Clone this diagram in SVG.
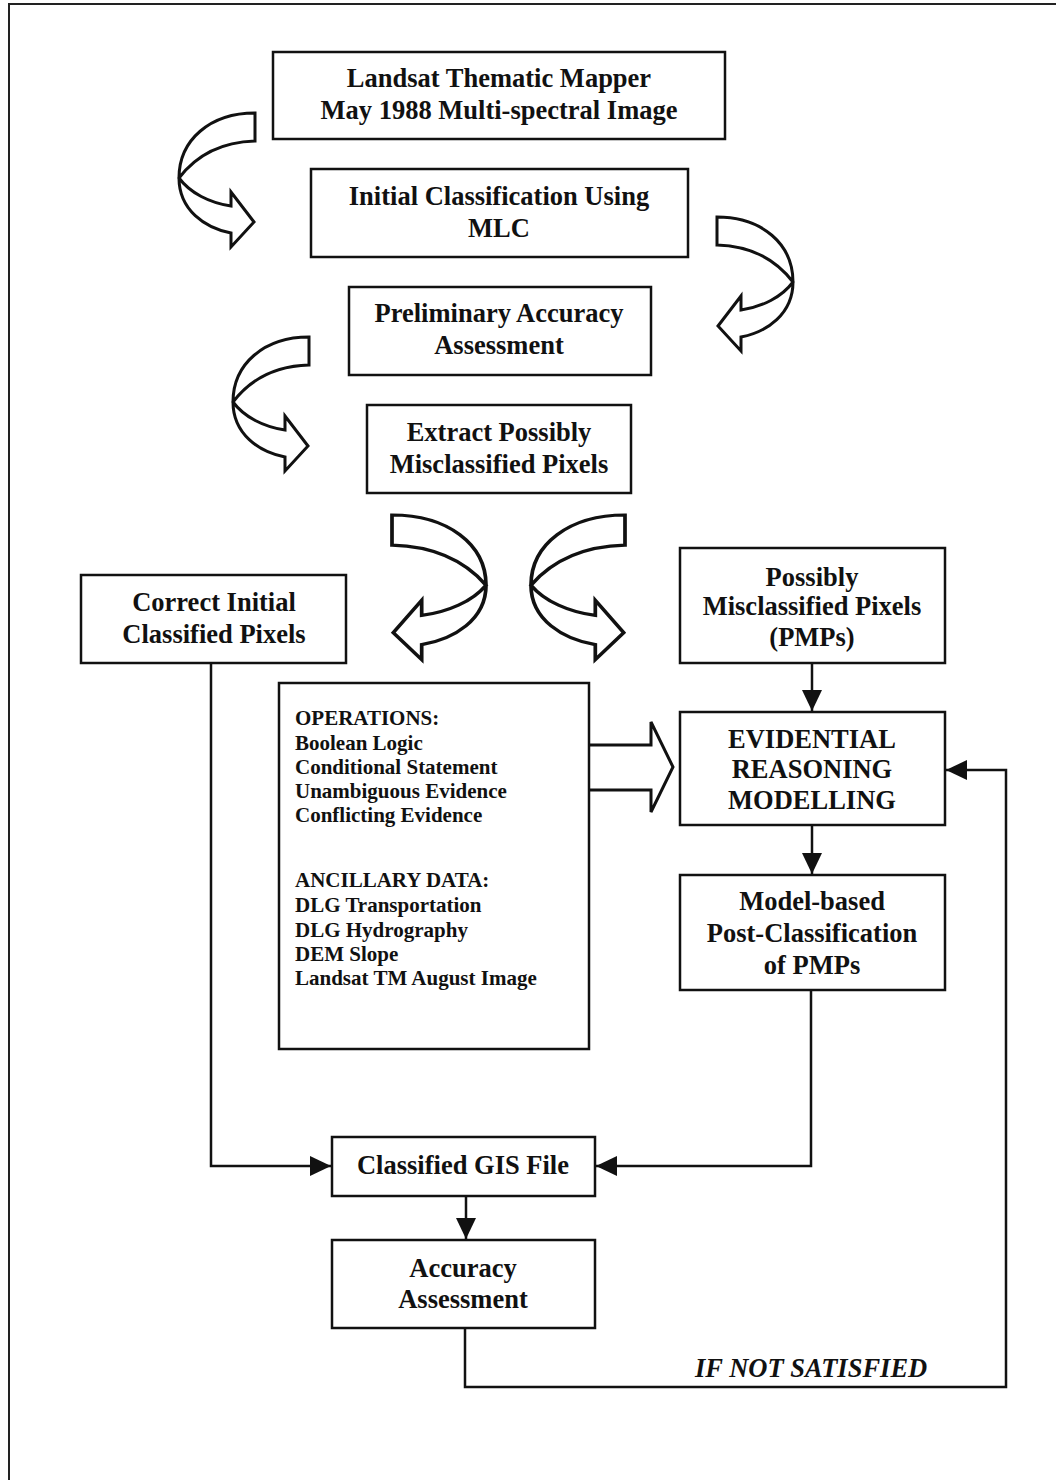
<svg xmlns="http://www.w3.org/2000/svg" xmlns:xlink="http://www.w3.org/1999/xlink" width="1056" height="1480" viewBox="0 0 1056 1480">
  <style>
    .box { fill: #fff; stroke: #111; stroke-width: 2.5; }
    .t { font-family: "Liberation Serif", "Times New Roman", serif; font-weight: bold; font-size: 26.5px; fill: #111; text-anchor: middle; }
    .s { font-family: "Liberation Serif", "Times New Roman", serif; font-weight: bold; font-size: 21px; fill: #111; }
    .it { font-family: "Liberation Serif", "Times New Roman", serif; font-weight: bold; font-style: italic; font-size: 26.5px; fill: #111; }
    .wire { fill: none; stroke: #111; stroke-width: 2.5; }
    .curl { fill: #fff; stroke: #111; stroke-width: 3; stroke-linejoin: miter; vector-effect: non-scaling-stroke; }
    .frame { fill: none; stroke: #222; stroke-width: 2; }
  </style>
  <defs>
    <marker id="head" markerUnits="userSpaceOnUse" markerWidth="21" markerHeight="20" refX="21" refY="10" orient="auto">
      <path d="M0,0 L21,10 L0,20 Z" fill="#111"/>
    </marker>
    <!-- curved ribbon arrow, tail at origin, bending left then pointing right -->
    <path id="curl" d="M0,0 C-45,0 -76,27 -76,65 C-76,97 -50,115 -24,120 L-24,134 L-1,109 L-24,79 L-24,93 C-45,90 -65,80 -76,65 C-60,44 -35,29 0,28 Z"/>
  </defs>

  <rect width="1056" height="1480" fill="#fff"/>
  <!-- page frame -->
  <path class="frame" d="M9,1480 L9,4 L1056,4"/>

  <!-- curved step arrows -->
  <g id="curls">
    <use xlink:href="#curl" class="curl" transform="translate(255,113)"/>
    <use xlink:href="#curl" class="curl" transform="translate(717,217) scale(-1,1)"/>
    <use xlink:href="#curl" class="curl" transform="translate(309,337)"/>
    <use xlink:href="#curl" class="curl" transform="translate(392,515) scale(-1.237,1.08)"/>
    <use xlink:href="#curl" class="curl" transform="translate(625,515) scale(1.237,1.08)"/>
  </g>

  <!-- connectors -->
  <g id="connectors">
    <path class="wire" d="M812,663 L812,711" marker-end="url(#head)"/>
    <path class="wire" d="M812,825 L812,874" marker-end="url(#head)"/>
    <path class="wire" d="M211,663 L211,1166 L331,1166" marker-end="url(#head)"/>
    <path class="wire" d="M811,990 L811,1166 L596,1166" marker-end="url(#head)"/>
    <path class="wire" d="M466,1196 L466,1239" marker-end="url(#head)"/>
    <path class="wire" d="M465,1328 L465,1387 L1006,1387 L1006,770 L946,770" marker-end="url(#head)"/>
    <!-- block arrow from operations to reasoning model -->
    <path class="wire" d="M589,745 L651,745 L651,722 L673,767 L651,812 L651,790 L589,790" style="fill:#fff;stroke-width:3"/>
  </g>

  <g id="landsat">
    <rect class="box" x="273" y="52" width="452" height="87"/>
    <text class="t" x="499" y="87">Landsat Thematic Mapper</text>
    <text class="t" x="499" y="119">May 1988 Multi-spectral Image</text>
  </g>

  <g id="initial">
    <rect class="box" x="311" y="169" width="377" height="88"/>
    <text class="t" x="499" y="205">Initial Classification Using</text>
    <text class="t" x="499" y="237">MLC</text>
  </g>

  <g id="preliminary">
    <rect class="box" x="349" y="287" width="302" height="88"/>
    <text class="t" x="499" y="322">Preliminary Accuracy</text>
    <text class="t" x="499" y="354">Assessment</text>
  </g>

  <g id="extract">
    <rect class="box" x="367" y="405" width="264" height="88"/>
    <text class="t" x="499" y="441">Extract Possibly</text>
    <text class="t" x="499" y="473">Misclassified Pixels</text>
  </g>

  <g id="correct">
    <rect class="box" x="81" y="575" width="265" height="88"/>
    <text class="t" x="214" y="611">Correct Initial</text>
    <text class="t" x="214" y="643">Classified Pixels</text>
  </g>

  <g id="pmps">
    <rect class="box" x="680" y="548" width="265" height="115"/>
    <text class="t" x="812" y="586">Possibly</text>
    <text class="t" x="812" y="615">Misclassified Pixels</text>
    <text class="t" x="812" y="646">(PMPs)</text>
  </g>

  <g id="operations">
    <rect class="box" x="279" y="683" width="310" height="366"/>
    <text class="s" x="295" y="725">OPERATIONS:</text>
    <text class="s" x="295" y="750">Boolean Logic</text>
    <text class="s" x="295" y="774">Conditional Statement</text>
    <text class="s" x="295" y="798">Unambiguous Evidence</text>
    <text class="s" x="295" y="822">Conflicting Evidence</text>
    <text class="s" x="295" y="887">ANCILLARY DATA:</text>
    <text class="s" x="295" y="912">DLG Transportation</text>
    <text class="s" x="295" y="937">DLG Hydrography</text>
    <text class="s" x="295" y="961">DEM Slope</text>
    <text class="s" x="295" y="985">Landsat TM August Image</text>
  </g>

  <g id="evidential">
    <rect class="box" x="680" y="712" width="265" height="113"/>
    <text class="t" x="812" y="748">EVIDENTIAL</text>
    <text class="t" x="812" y="778">REASONING</text>
    <text class="t" x="812" y="809">MODELLING</text>
  </g>

  <g id="modelbased">
    <rect class="box" x="680" y="875" width="265" height="115"/>
    <text class="t" x="812" y="910">Model-based</text>
    <text class="t" x="812" y="942">Post-Classification</text>
    <text class="t" x="812" y="974">of PMPs</text>
  </g>

  <g id="gisfile">
    <rect class="box" x="332" y="1137" width="263" height="59"/>
    <text class="t" x="463" y="1174">Classified GIS File</text>
  </g>

  <g id="accuracy">
    <rect class="box" x="332" y="1240" width="263" height="88"/>
    <text class="t" x="463" y="1277">Accuracy</text>
    <text class="t" x="463" y="1308">Assessment</text>
  </g>

  <text class="it" x="695" y="1377">IF NOT SATISFIED</text>
</svg>
